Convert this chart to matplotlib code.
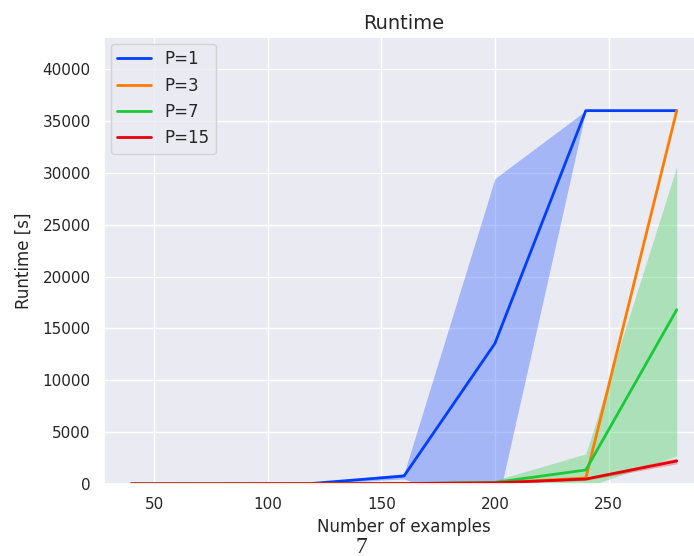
import numpy as np
import matplotlib
matplotlib.use("Agg")
import matplotlib.pyplot as plt
import seaborn as sns

# values
n_examples = [40, 80, 120, 160, 200, 240, 280]
labels = ["P=1", "P=3", "P=7", "P=15"]

p1_mean = [10, 15, 60, 770, 13550, 36000, 36000]
p1_low = [0, 0, 0, 500, -3000, 36000, 36000]
p1_high = [20, 30, 120, 1000, 29450, 36000, 36000]

p3_mean = [5, 10, 20, 40, 100, 580, 36000]
p3_low = [0, 0, 0, 20, 50, 450, 36000]
p3_high = [10, 20, 40, 60, 150, 700, 36000]

p7_mean = [5, 10, 20, 40, 150, 1350, 16800]
p7_low = [0, 0, 0, 20, -200, -300, 2700]
p7_high = [10, 20, 40, 60, 350, 2900, 30600]

p15_mean = [5, 10, 20, 40, 110, 480, 2220]
p15_low = [0, 0, 0, 20, 50, 350, 1950]
p15_high = [10, 20, 40, 60, 170, 620, 2500]

means = [p1_mean, p3_mean, p7_mean, p15_mean]
lows = [p1_low, p3_low, p7_low, p15_low]
highs = [p1_high, p3_high, p7_high, p15_high]

sns.set_theme(style="darkgrid")
colors = sns.color_palette("bright", 4)

fig = plt.figure(figsize=(6.94, 5.56), dpi=100)
# axes run past the right edge of the picture, as in the reference
ax = fig.add_axes([104 / 694, 72 / 556, 600 / 694, 447 / 556])

for m, lo, hi, lab, c in zip(means, lows, highs, labels, colors):
    ax.fill_between(n_examples, lo, hi, color=c, alpha=0.3, linewidth=0)
    ax.plot(n_examples, m, color=c, label=lab, linewidth=2)

ax.set_xlim(28, 292)
ax.set_ylim(0, 43100)
ax.set_yticks(np.arange(0, 40001, 5000))
ax.set_xticks([50, 100, 150, 200, 250])
ax.set_xlabel("Number of examples")
ax.set_ylabel("Runtime [s]", labelpad=7)
ax.set_title("Runtime", fontsize=14)
ax.legend(loc="upper left", fontsize=12, borderaxespad=0.4)

fig.text(361 / 694, 1 - 537 / 556, "7", family="Liberation Serif",
         fontsize=17, ha="center", va="top")

fig.savefig("out.png", dpi=100)
